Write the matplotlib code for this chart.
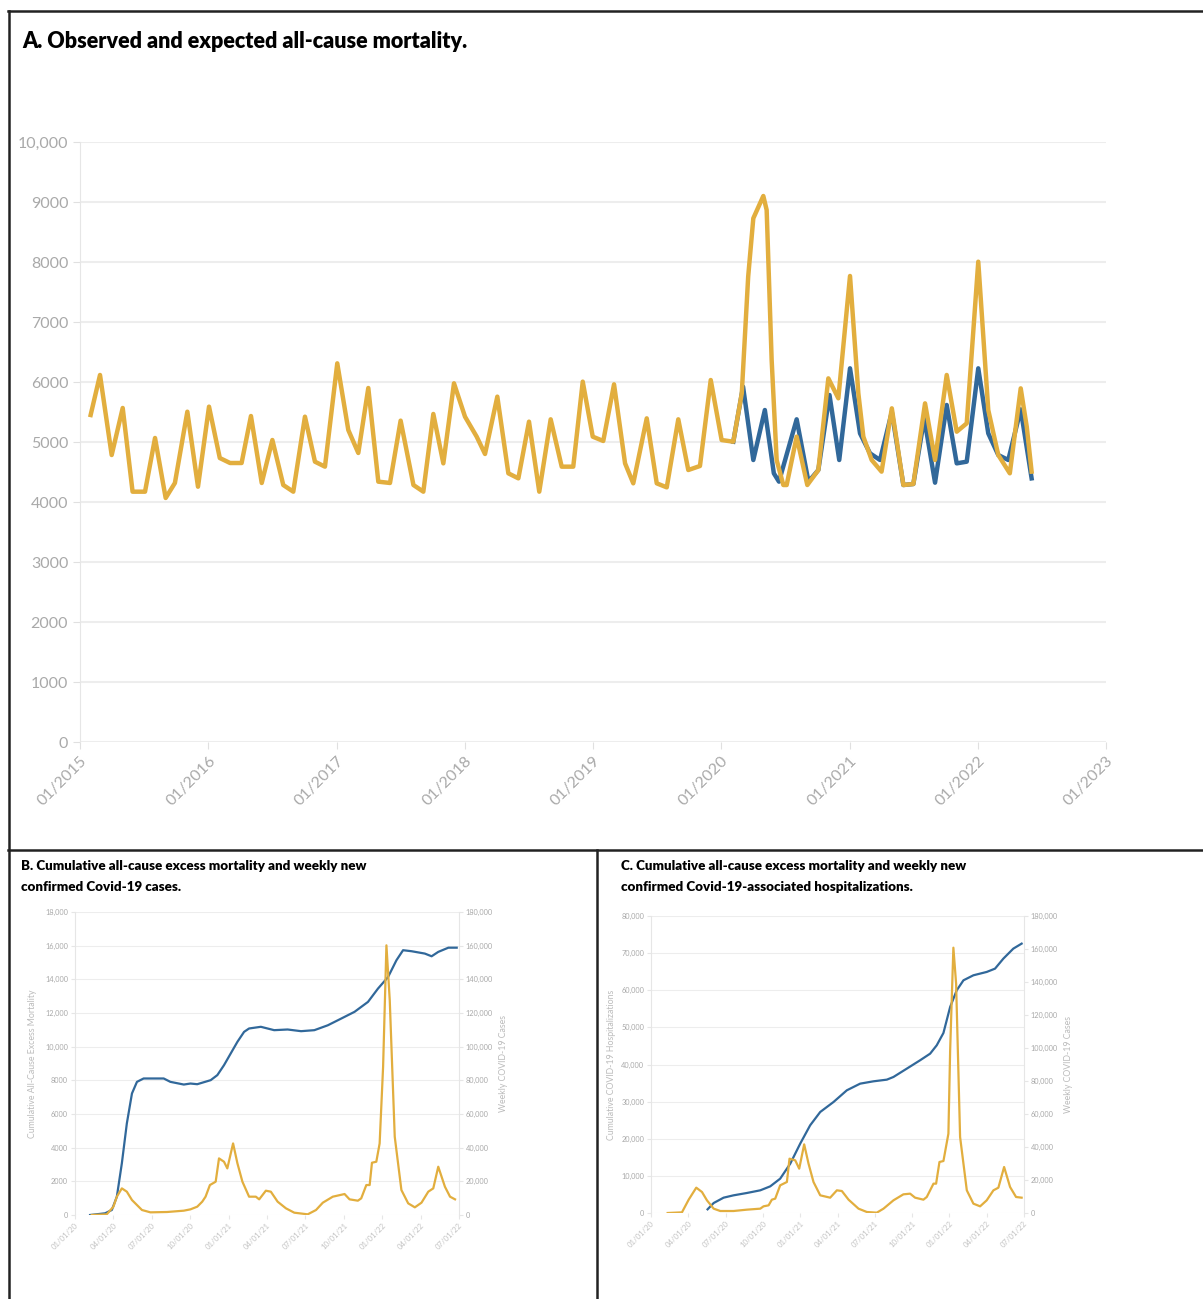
import matplotlib
matplotlib.use("Agg")
import matplotlib.pyplot as plt
from matplotlib.lines import Line2D

plt.rcParams['font.family'] = ['Lato', 'DejaVu Sans']

YELLOW = '#E2AE3E'
BLUE = '#31689A'
GRAY = '#A9A9A9'
GRID = '#EDEDED'

# ---- panel A: observed / expected weekly deaths (decimal years) ----
obs_x = [2015.083, 2015.156, 2015.247, 2015.333, 2015.41, 2015.507, 2015.585, 2015.668, 2015.74,
         2015.837, 2015.92, 2016.006, 2016.09, 2016.17, 2016.26, 2016.333, 2016.417, 2016.5,
         2016.585, 2016.663, 2016.754, 2016.832, 2016.91, 2017.006, 2017.092, 2017.17, 2017.248,
         2017.326, 2017.417, 2017.5, 2017.6, 2017.677, 2017.755, 2017.833, 2017.916, 2018.002,
         2018.093, 2018.158, 2018.254, 2018.34, 2018.418, 2018.501, 2018.581, 2018.67, 2018.756,
         2018.846, 2018.92, 2018.998, 2019.08, 2019.164, 2019.25, 2019.314, 2019.419, 2019.497,
         2019.575, 2019.665, 2019.743, 2019.834, 2019.918, 2020.003, 2020.094, 2020.16, 2020.21,
         2020.25, 2020.328, 2020.354, 2020.393, 2020.432, 2020.484, 2020.51, 2020.588, 2020.671,
         2020.757, 2020.835, 2020.913, 2021.004, 2021.069, 2021.108, 2021.173, 2021.25, 2021.33,
         2021.42, 2021.498, 2021.589, 2021.667, 2021.758, 2021.836, 2021.914, 2022.004, 2022.082,
         2022.16, 2022.25, 2022.335, 2022.382, 2022.42]
obs_y = [5450, 6117, 4783, 5567, 4172, 4172, 5067, 4067, 4317,
         5505, 4255, 5589, 4733, 4650, 4650, 5433, 4317, 5033,
         4283, 4172, 5422, 4672, 4589, 6311, 5200, 4817, 5900,
         4339, 4317, 5356, 4283, 4172, 5467, 4644, 5978, 5422,
         5089, 4800, 5756, 4478, 4394, 5339, 4172, 5378, 4589,
         4589, 6006, 5089, 5017, 5961, 4644, 4311, 5394, 4311,
         4244, 5378, 4533, 4600, 6033, 5033, 5005, 5811, 7756,
         8728, 9100, 8867, 6367, 4700, 4283, 4283, 5089, 4283,
         4533, 6061, 5728, 7767, 5811, 5089, 4700, 4506, 5561,
         4283, 4300, 5644, 4700, 6117, 5172, 5311, 8005, 5533,
         4783, 4478, 5894, 5255, 4506]

exp_x = [2020.094, 2020.17, 2020.25, 2020.34, 2020.41, 2020.45, 2020.588, 2020.68, 2020.757,
         2020.844, 2020.92, 2021.004, 2021.082, 2021.16, 2021.238, 2021.33, 2021.42, 2021.498,
         2021.583, 2021.667, 2021.758, 2021.836, 2021.914, 2022.004, 2022.082, 2022.16, 2022.238,
         2022.335, 2022.42]
exp_y = [5005, 5922, 4700, 5533, 4478, 4339, 5378, 4339, 4533,
         5783, 4700, 6228, 5144, 4811, 4700, 5500, 4283, 4300,
         5394, 4322, 5617, 4644, 4672, 6228, 5144, 4783, 4700,
         5544, 4394]

years = list(range(2015, 2024))
year_labels = ['01/%d' % y for y in years]

# ---- panel B / C: months since 01/01/2020 ----
quarter_ticks = list(range(0, 31, 3))
quarter_labels = ['01/01/20', '04/01/20', '07/01/20', '10/01/20', '01/01/21', '04/01/21',
                  '07/01/21', '10/01/21', '01/01/22', '04/01/22', '07/01/22']

excess_m = [1.18, 2.35, 2.88, 3.27, 3.66, 4.05, 4.45, 4.84, 5.36, 6.93, 7.45, 8.5, 9.02, 9.55,
            10.6, 11.12, 11.64, 12.16, 12.69, 13.21, 13.6, 14.52, 15.56, 16.61, 17.66, 18.7,
            19.75, 20.8, 21.84, 22.89, 23.67, 24.46, 25.11, 25.63, 26.29, 27.33, 27.86, 28.38,
            29.17, 29.82]
excess_v = [0, 100, 300, 1090, 3070, 5440, 7220, 7910, 8110, 8110, 7910, 7750, 7810, 7770,
            8010, 8310, 8900, 9590, 10290, 10880, 11080, 11180, 10980, 11020, 10920, 10980,
            11270, 11670, 12070, 12660, 13450, 14140, 15130, 15730, 15670, 15530, 15370, 15630,
            15880, 15880]

cases_b_m = [1.31, 2.48, 3.0, 3.27, 3.66, 4.05, 4.45, 4.84, 5.23, 5.89, 7.19, 8.5, 9.02, 9.55,
             9.94, 10.2, 10.54, 10.99, 11.25, 11.64, 11.9, 12.35, 12.69, 13.08, 13.6, 14.13,
             14.39, 14.91, 15.3, 15.83, 16.48, 17.13, 18.18, 18.83, 19.36, 20.14, 21.06, 21.45,
             22.1, 22.36, 22.76, 23.02, 23.2, 23.54, 23.8, 24.07, 24.33, 24.59, 24.98, 25.5,
             26.03, 26.55, 27.07, 27.6, 27.99, 28.38, 28.9, 29.3, 29.69]
cases_b_v = [0, 400, 4940, 10880, 15820, 13850, 8900, 5930, 2970, 1580, 1780, 2570, 3360, 4940,
             7910, 10880, 17800, 19780, 33630, 31650, 27690, 42530, 30660, 19780, 10880, 10880,
             9300, 14440, 13850, 7910, 3960, 1380, 400, 2970, 7320, 10880, 12460, 9300,
             8500, 9890, 17800, 17800, 31050, 31650, 42530, 88000, 160200, 127600, 46480, 14840,
             6920, 4550, 7320, 13850, 15820, 28680, 16810, 10880, 9300]

hosp_m = [4.55, 5.04, 5.84, 6.64, 7.71, 8.79, 9.59, 10.39, 11.2, 12.0, 12.8, 13.61, 14.68, 15.75,
          16.82, 17.89, 18.97, 19.5, 20.57, 21.64, 22.45, 22.98, 23.52, 24.06, 24.59, 25.13,
          25.93, 27.0, 27.67, 28.34, 29.14, 29.81]
hosp_v = [990, 2690, 4130, 4760, 5390, 6110, 7180, 9250, 13290, 18680, 23620, 27210, 29900, 33050,
          34840, 35470, 35920, 36640, 38880, 41130, 42920, 45170, 48490, 55500, 59990, 62680,
          64030, 64930, 65820, 68520, 71210, 72560]

cases_c_m = [1.34, 2.49, 3.03, 3.64, 4.1, 4.5, 5.04, 5.57, 6.64, 7.71, 8.79, 9.05, 9.46, 9.72,
             9.99, 10.39, 10.93, 11.14, 11.6, 11.92, 12.32, 12.67, 13.07, 13.61, 14.41, 14.95,
             15.35, 15.89, 16.69, 17.36, 18.16, 18.7, 19.5, 20.3, 20.84, 21.24, 21.91, 22.18,
             22.72, 22.93, 23.2, 23.52, 23.92, 24.06, 24.32, 24.54, 24.86, 25.4, 25.93, 26.47,
             27.0, 27.54, 27.94, 28.4, 28.88, 29.36, 29.81]
cases_c_v = [0, 400, 8080, 15350, 12730, 7680, 2630, 1210, 1210, 2020, 2630, 4040, 4650, 8080,
             8690, 16770, 18790, 32930, 31920, 26870, 41610, 29900, 18790, 10710, 9290, 13740,
             13330, 8080, 2630, 610, 200, 2630, 7680, 11310, 11720, 9290, 8080, 9700,
             17780, 17780, 30910, 31510, 48080, 98580, 160800, 138980, 46060, 13740, 5660, 4040,
             7680, 13740, 15350, 27880, 15760, 9700, 9290]

W, H = 1203, 1299
fig = plt.figure(figsize=(W / 100, H / 100), dpi=100)


def box(x0, y0, x1, y1):
    # pixel box -> figure fraction
    return [x0 / W, 1 - y1 / H, (x1 - x0) / W, (y1 - y0) / H]


def style_small(ax, yticks, ylabels):
    ax.set_yticks(yticks)
    ax.set_yticklabels(ylabels)
    ax.grid(axis='y', color=GRID, lw=0.8)
    ax.set_axisbelow(True)
    for s in ['top', 'right', 'bottom']:
        ax.spines[s].set_visible(False)
    ax.spines['left'].set_color('#E6E6E6')
    ax.tick_params(axis='y', labelsize=5.3, colors='#E6E6E6', labelcolor=GRAY, length=3, pad=2)
    ax.tick_params(axis='x', labelsize=5.6, colors='#E6E6E6', labelcolor='#C2C2C2', length=3, pad=2)


# panel A
axA = fig.add_axes(box(80, 142, 1106, 742))
axA.plot(exp_x, exp_y, color=BLUE, lw=3.2, solid_joinstyle='round', zorder=2)
axA.plot(obs_x, obs_y, color=YELLOW, lw=3.2, solid_joinstyle='round', zorder=3)
axA.set_xlim(2015, 2023)
axA.set_ylim(0, 10000)
axA.set_yticks(range(0, 10001, 1000))
axA.set_yticklabels(['0', '1000', '2000', '3000', '4000', '5000', '6000', '7000', '8000', '9000', '10,000'])
axA.set_xticks(years)
axA.set_xticklabels(year_labels, rotation=45, ha='right', rotation_mode='anchor')
axA.grid(axis='y', color=GRID, lw=1.5)
axA.set_axisbelow(True)
for s in ['top', 'right', 'bottom']:
    axA.spines[s].set_visible(False)
axA.spines['left'].set_color('#E6E6E6')
axA.tick_params(axis='both', labelsize=11.5, colors='#E0E0E0', labelcolor=GRAY, length=5)
fig.text(22 / W, 1 - 42 / H, 'A. Observed and expected all-cause mortality.', fontsize=15.5,
         fontweight='heavy', va='center', ha='left')

# panel B
axB = fig.add_axes(box(75, 912, 459, 1215))
axB2 = axB.twinx()
axB.plot(excess_m, excess_v, color=BLUE, lw=1.6)
axB2.plot(cases_b_m, cases_b_v, color=YELLOW, lw=1.6)
axB.set_xlim(0, 30)
axB.set_ylim(0, 18000)
axB2.set_ylim(0, 180000)
axB.set_xticks(quarter_ticks)
axB.set_xticklabels(quarter_labels, rotation=45, ha='right', rotation_mode='anchor')
style_small(axB, range(0, 18001, 2000),
            ['0', '2000', '4000', '6000', '8000', '10,000', '12,000', '14,000', '16,000', '18,000'])
axB2.set_yticks(range(0, 180001, 20000))
axB2.set_yticklabels(['0', '20,000', '40,000', '60,000', '80,000', '100,000', '120,000',
                      '140,000', '160,000', '180,000'])
for s in ['top', 'left', 'bottom']:
    axB2.spines[s].set_visible(False)
axB2.spines['right'].set_color('#E6E6E6')
axB2.tick_params(axis='y', labelsize=5.3, colors='#E6E6E6', labelcolor=GRAY, length=3, pad=2)
axB.set_ylabel('Cumulative All-Cause Excess Mortality', fontsize=6.3, color='#BBBBBB', labelpad=6)
axB2.set_ylabel('Weekly COVID-19 Cases', fontsize=6.3, color='#BBBBBB', labelpad=4)
fig.text(21 / W, 1 - 866 / H, 'B. Cumulative all-cause excess mortality and weekly new',
         fontsize=9.6, fontweight='heavy', va='center')
fig.text(21 / W, 1 - 887 / H, 'confirmed Covid-19 cases.', fontsize=9.6, fontweight='heavy',
         va='center')

# panel C
axC = fig.add_axes(box(651, 916, 1024, 1213))
axC2 = axC.twinx()
axC.plot(hosp_m, hosp_v, color=BLUE, lw=1.6)
axC2.plot(cases_c_m, cases_c_v, color=YELLOW, lw=1.6)
axC.set_xlim(0, 30)
axC.set_ylim(0, 80000)
axC2.set_ylim(0, 180000)
axC.set_xticks(quarter_ticks)
axC.set_xticklabels(quarter_labels, rotation=45, ha='right', rotation_mode='anchor')
style_small(axC, range(0, 80001, 10000),
            ['0', '10,000', '20,000', '30,000', '40,000', '50,000', '60,000', '70,000', '80,000'])
axC2.set_yticks(range(0, 180001, 20000))
axC2.set_yticklabels(['0', '20,000', '40,000', '60,000', '80,000', '100,000', '120,000',
                      '140,000', '160,000', '180,000'])
for s in ['top', 'left', 'bottom']:
    axC2.spines[s].set_visible(False)
axC2.spines['right'].set_color('#E6E6E6')
axC2.tick_params(axis='y', labelsize=5.3, colors='#E6E6E6', labelcolor=GRAY, length=3, pad=2)
axC.set_ylabel('Cumulative COVID-19 Hospitalizations', fontsize=6.3, color='#BBBBBB', labelpad=4)
axC2.set_ylabel('Weekly COVID-19 Cases', fontsize=6.3, color='#BBBBBB', labelpad=4)
fig.text(621 / W, 1 - 866 / H, 'C. Cumulative all-cause excess mortality and weekly new',
         fontsize=9.6, fontweight='heavy', va='center')
fig.text(621 / W, 1 - 887 / H, 'confirmed Covid-19-associated hospitalizations.', fontsize=9.6,
         fontweight='heavy', va='center')

# panel borders
def hline(y, x0, x1):
    fig.add_artist(Line2D([x0 / W, x1 / W], [1 - y / H, 1 - y / H], color='#222222', lw=1.8))


def vline(x, y0, y1):
    fig.add_artist(Line2D([x / W, x / W], [1 - y0 / H, 1 - y1 / H], color='#222222', lw=1.8))


hline(11, 8, W)
hline(850, 8, W)
vline(9, 11, H)
vline(597, 850, H)

fig.savefig('out.png', dpi=100, facecolor='white')
